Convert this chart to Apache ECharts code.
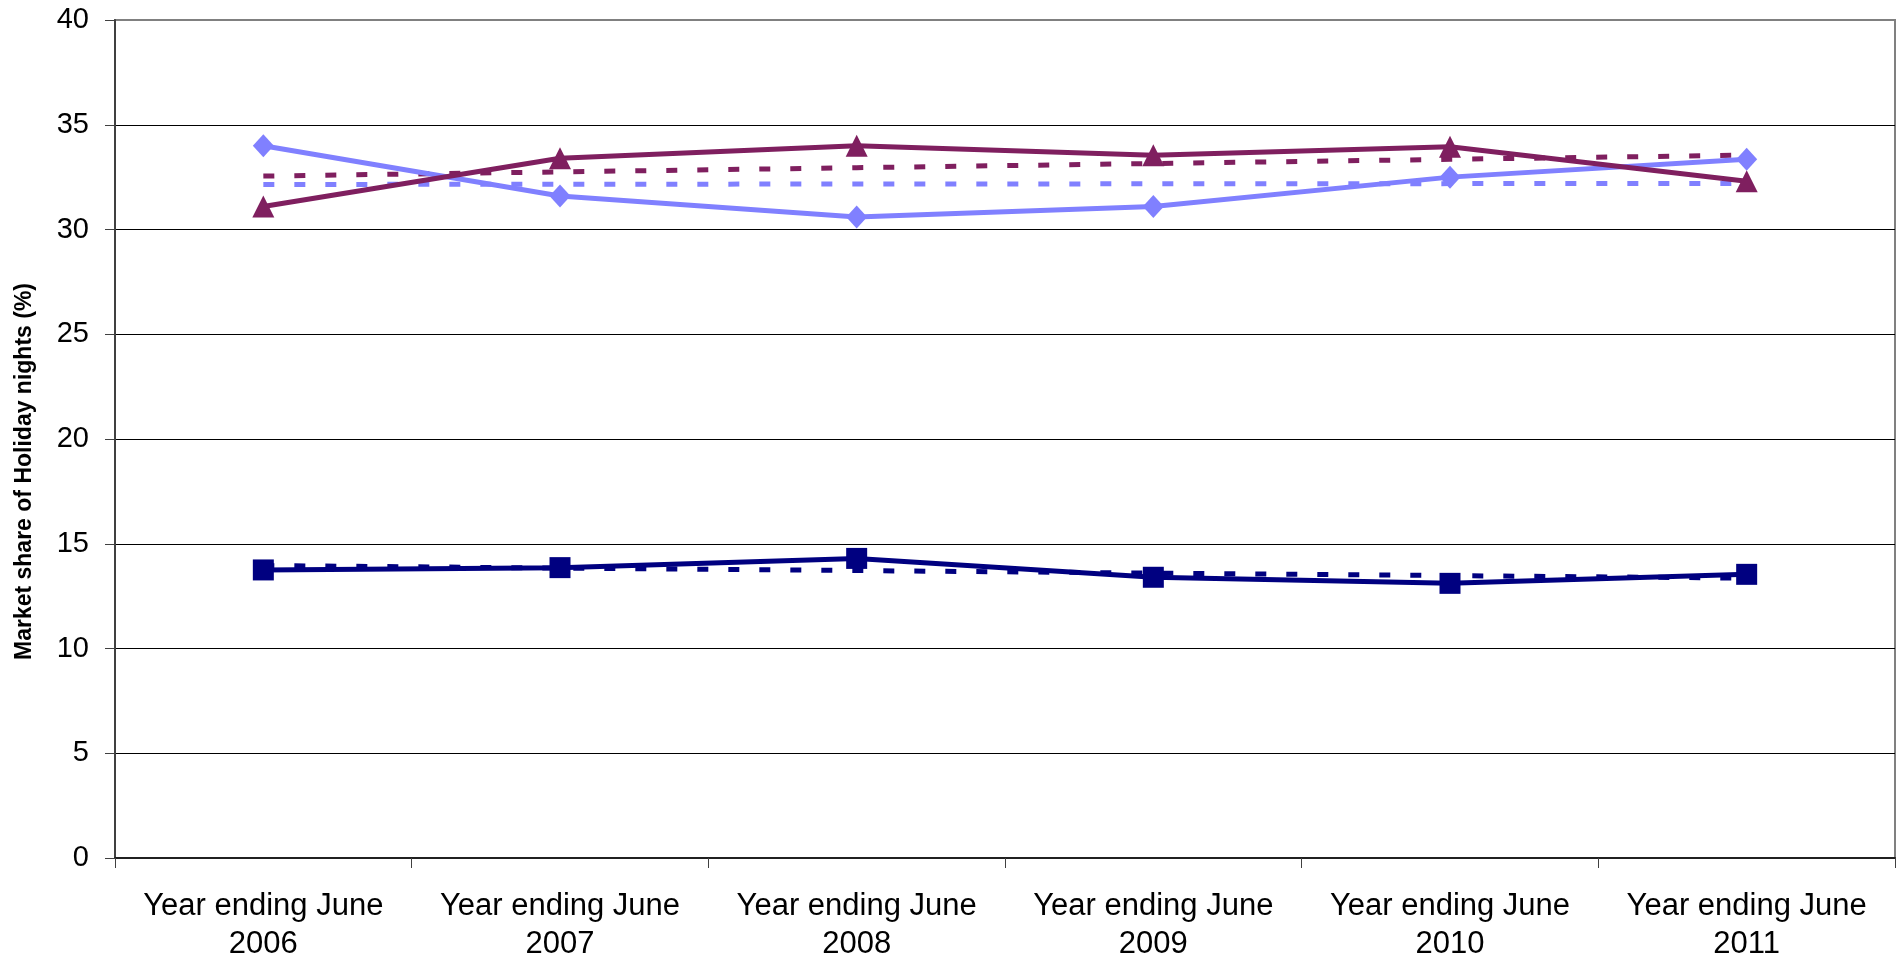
<!DOCTYPE html>
<html>
<head>
<meta charset="utf-8">
<script src="https://cdn.jsdelivr.net/npm/echarts@6/dist/echarts.min.js"></script>
<style>
html,body{margin:0;padding:0;background:#fff;}
#chart{width:1901px;height:968px;}
</style>
</head>
<body>
<div id="chart"></div>
<script>
const categories = ['Year ending June\n2006','Year ending June\n2007','Year ending June\n2008','Year ending June\n2009','Year ending June\n2010','Year ending June\n2011'];
const yTicks = [0, 5, 10, 15, 20, 25, 30, 35, 40];
const yTitle = 'Market share of Holiday nights (%)';

// solid series
const navySolid = [13.75, 13.86, 14.3, 13.4, 13.11, 13.54];
const blueSolid = [34.0, 31.6, 30.6, 31.1, 32.5, 33.35];
const purpleSolid = [31.1, 33.4, 34.0, 33.55, 33.95, 32.3];
// dotted (trend) series
const navyDotted = [13.96, 13.84, 13.72, 13.60, 13.48, 13.36];
const blueDotted = [32.15, 32.16, 32.17, 32.18, 32.19, 32.2];
const purpleDotted = [32.55, 32.75, 32.95, 33.15, 33.35, 33.55];

const NAVY = '#000080', BLUE = '#8080ff', PURPLE = '#7f1f5f';
const FONT = '"Liberation Sans", Arial, sans-serif';

const chart = echarts.init(document.getElementById('chart'), null, {renderer: 'canvas'});

function dotted(name, data, color) {
  return {
    name, type: 'line', data, symbol: 'none', z: 2,
    lineStyle: {color, width: 5, type: [11, 20], cap: 'butt'},
    silent: true
  };
}
function solid(name, data, color, symbol, size) {
  return {
    name, type: 'line', data, symbol, symbolSize: size, z: 3,
    lineStyle: {color, width: 5},
    itemStyle: {color, borderWidth: 0},
    silent: true
  };
}

chart.setOption({
  animation: false,
  backgroundColor: '#ffffff',
  grid: {left: 115, right: 6, top: 20, bottom: 110, show: true, borderColor: '#808080', borderWidth: 2, backgroundColor: 'transparent'},
  xAxis: {
    type: 'category',
    data: categories,
    boundaryGap: true,
    axisLine: {show: true, lineStyle: {color: '#202020', width: 2}},
    axisTick: {show: true, length: 10, inside: false, lineStyle: {color: '#404040', width: 1}},
    axisLabel: {color: '#000', fontFamily: FONT, fontSize: 31, lineHeight: 38, margin: 29, interval: 0},
    splitLine: {show: false}
  },
  yAxis: {
    type: 'value',
    min: yTicks[0], max: yTicks[yTicks.length - 1], interval: 5,
    axisLine: {show: true, lineStyle: {color: '#404040', width: 2}},
    axisTick: {show: true, length: 10, inside: false, lineStyle: {color: '#404040', width: 1}},
    axisLabel: {color: '#000', fontFamily: FONT, fontSize: 29, margin: 26},
    splitLine: {show: true, showMaxLine: false, lineStyle: {color: '#000', width: 1}}
  },
  graphic: [{
    type: 'text',
    left: 13, top: 283,
    rotation: Math.PI / 2,
    style: {text: yTitle, fill: '#000', font: 'bold 23px ' + FONT}
  }],
  series: [
    dotted('Navy trend', navyDotted, NAVY),
    dotted('Blue trend', blueDotted, BLUE),
    dotted('Purple trend', purpleDotted, PURPLE),
    solid('Navy', navySolid, NAVY, 'rect', [21, 21]),
    solid('Blue', blueSolid, BLUE, 'diamond', [21, 23]),
    solid('Purple', purpleSolid, PURPLE, 'triangle', [22, 22])
  ]
});
</script>
</body>
</html>
